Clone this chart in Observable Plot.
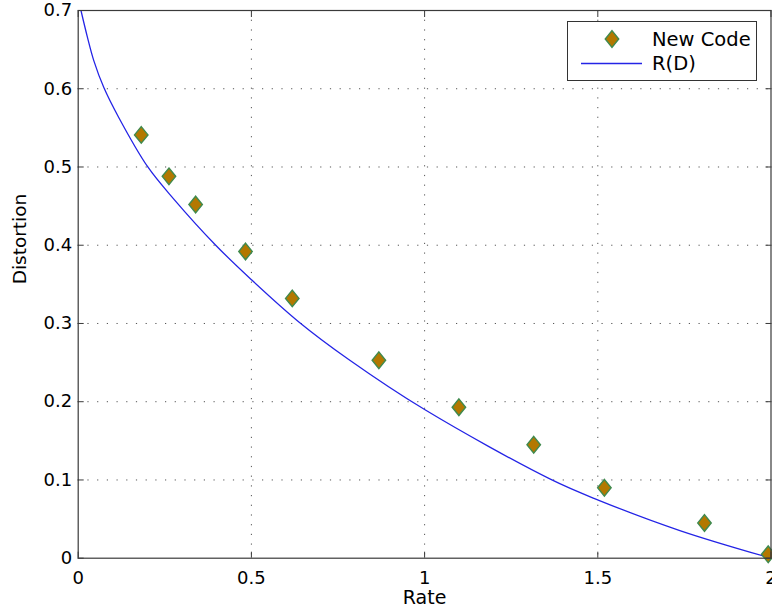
<!DOCTYPE html>
<html>
<head>
<meta charset="utf-8">
<script src="https://cdn.jsdelivr.net/npm/d3@7"></script>
<script src="https://cdn.jsdelivr.net/npm/@observablehq/plot@0.6"></script>
<style>
  html, body { margin: 0; padding: 0; background: #fff; }
  #wrap { position: relative; width: 772px; height: 616px; overflow: hidden; }
  #legend { position: absolute; left: 567px; top: 21px; width: 188px; height: 58px;
            border: 1px solid #333; background: #fff; }
  #legend svg { position: absolute; left: 0; top: 0; }
</style>
</head>
<body>
<div id="wrap"></div>
<script>
// New Code operating points
const codeRate = [0.182, 0.262, 0.339, 0.483, 0.618, 0.868, 1.099, 1.315, 1.519, 1.808, 1.992];
const codeDistortion = [0.541, 0.488, 0.452, 0.392, 0.332, 0.253, 0.193, 0.145, 0.090, 0.045, 0.005];

// R(D) curve
const rdRate = [0.008, 0.026, 0.045, 0.074, 0.117, 0.201, 0.276, 0.397, 0.5, 0.637, 0.781, 1.0, 1.363, 1.503, 1.739, 2.0];
const rdDistortion = [0.70, 0.667, 0.636, 0.6015, 0.5633, 0.50, 0.459, 0.40, 0.356, 0.302, 0.254, 0.190, 0.101, 0.074, 0.035, 0.0];

// ticks
const xTicks = [0, 0.5, 1, 1.5, 2];
const yTicks = [0, 0.1, 0.2, 0.3, 0.4, 0.5, 0.6, 0.7];
const xGrid = [0.5, 1, 1.5];
const yGrid = [0.1, 0.2, 0.3, 0.4, 0.5, 0.6];

const seriesNames = ["New Code", "R(D)"];

const points = codeRate.map((r, i) => ({r, d: codeDistortion[i]}));
const curve = rdRate.map((r, i) => ({r, d: rdDistortion[i]}));

const FILL = "#b37800", EDGE = "#3f8a4e", LINE = "#2424e6", AXIS = "#3a3a3a", GRID = "#555";
const FONT = "'DejaVu Sans', Verdana, sans-serif";

// tall diamond marker
const tallDiamond = {
  draw(ctx, size) {
    const s = Math.sqrt(size / Math.PI);
    const hy = s * 1.85, hx = s * 1.5;
    ctx.moveTo(0, -hy); ctx.lineTo(hx, 0); ctx.lineTo(0, hy); ctx.lineTo(-hx, 0); ctx.closePath();
  }
};

const fmt = d => d === 0 ? "0" : String(d);

const chart = Plot.plot({
  width: 772,
  height: 616,
  marginLeft: 77.7,
  marginTop: 10,
  marginRight: 1.5,
  marginBottom: 58.3,
  x: {domain: [0, 2]},
  y: {domain: [0, 0.7]},
  style: {fontFamily: FONT, fontSize: "18px", color: "#000", background: "#fff"},
  marks: [
    Plot.ruleX(xGrid, {x: d => d, stroke: GRID, strokeWidth: 1, strokeDasharray: "1.2,8.5"}),
    Plot.ruleY(yGrid, {y: d => d, stroke: GRID, strokeWidth: 1, strokeDasharray: "1.2,8.5"}),
    Plot.line(curve, {x: "r", y: "d", stroke: LINE, strokeWidth: 1.3, curve: "catmull-rom", clip: true}),
    Plot.dot(points, {x: "r", y: "d", symbol: tallDiamond, r: 4.5, fill: FILL, stroke: EDGE, strokeWidth: 1.4}),
    Plot.frame({stroke: AXIS, strokeWidth: 1.2}),
    Plot.axisX(xTicks, {anchor: "bottom", tickSize: -6, tickPadding: 19, tickFormat: fmt, label: null, stroke: AXIS, fill: "#000", fontSize: 18}),
    Plot.axisX(xTicks, {anchor: "top", tickSize: -6, tickFormat: () => "", label: null, stroke: AXIS}),
    Plot.axisY(yTicks, {anchor: "left", tickSize: -6, tickPadding: 12, tickFormat: fmt, label: null, stroke: AXIS, fill: "#000", fontSize: 18}),
    Plot.axisY(yTicks, {anchor: "right", tickSize: -6, tickFormat: () => "", label: null, stroke: AXIS}),
    Plot.text(["Rate"], {frameAnchor: "bottom", dy: 46, text: d => d, fill: "#000", fontSize: 19}),
    Plot.text(["Distortion"], {frameAnchor: "left", dx: -58, rotate: -90, text: d => d, fill: "#000", fontSize: 18.5})
  ]
});

const wrap = document.getElementById("wrap");
wrap.appendChild(chart);

// legend box (inside the axes, top right)
const legend = document.createElement("div");
legend.id = "legend";
wrap.appendChild(legend);
const lsvg = d3.select(legend).append("svg").attr("width", 188).attr("height", 58)
  .style("font-family", FONT).style("font-size", "19.5px");
lsvg.append("path")
  .attr("d", d3.symbol(tallDiamond, 4.5 * 4.5 * Math.PI)())
  .attr("transform", "translate(44,17)")
  .attr("fill", FILL).attr("stroke", EDGE).attr("stroke-width", 1.4);
lsvg.append("line").attr("x1", 13).attr("x2", 74).attr("y1", 41.5).attr("y2", 41.5)
  .attr("stroke", LINE).attr("stroke-width", 1.3);
lsvg.selectAll("text.lbl").data(seriesNames).join("text")
  .attr("x", 84).attr("y", (d, i) => 17 + i * 24.5).attr("dy", "0.35em").attr("fill", "#000").text(d => d);
</script>
</body>
</html>
